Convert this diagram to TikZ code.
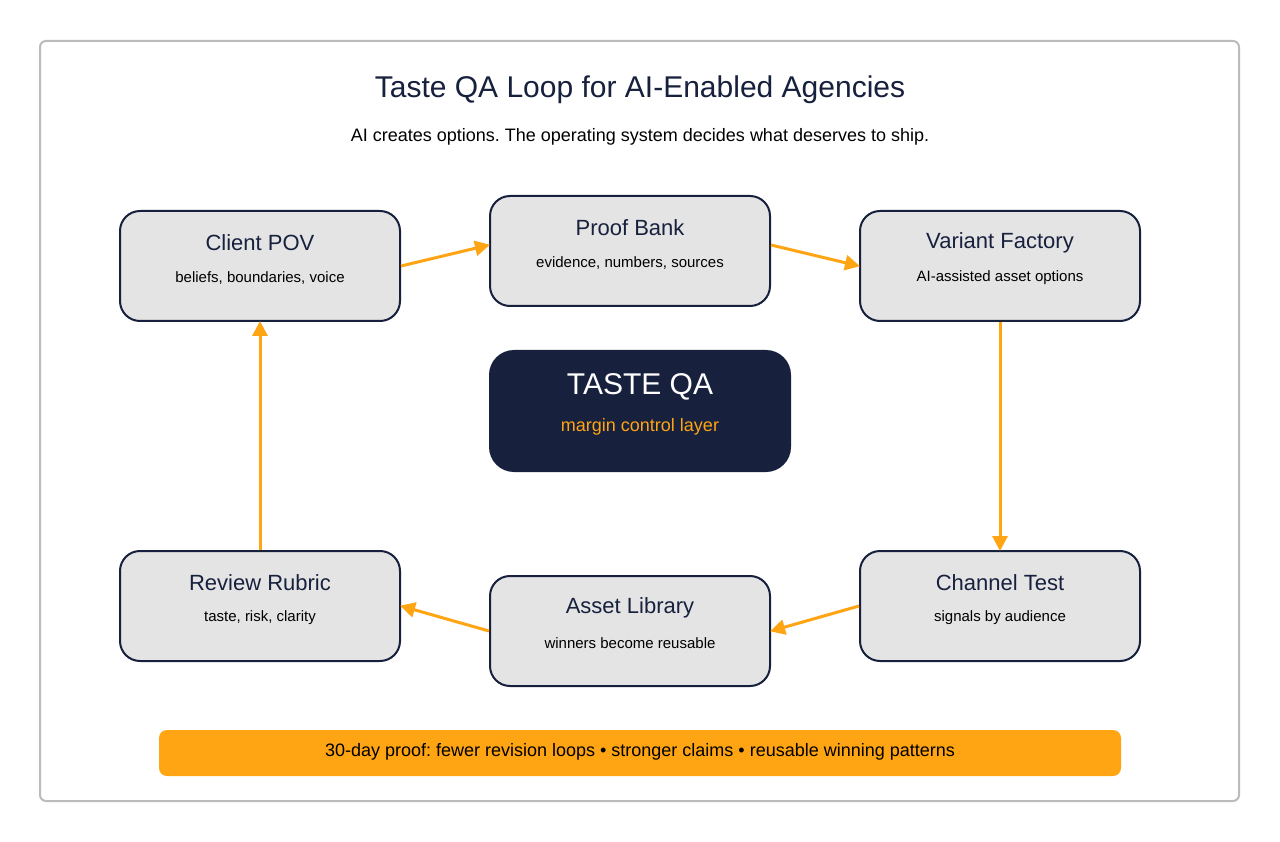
\documentclass[tikz,border=0pt]{standalone}
\usepackage{fontspec}
\setmainfont{Liberation Sans}
\usetikzlibrary{arrows.meta}
\definecolor{navy}{HTML}{17203D}
\definecolor{boxfill}{HTML}{E4E4E4}
\definecolor{orng}{HTML}{FFA412}
\definecolor{frame}{HTML}{BBBBBB}
\frenchspacing
\tikzset{
  stage/.style={draw=navy, line width=2pt, fill=boxfill, rounded corners=20pt, minimum width=280pt, minimum height=110pt, inner sep=0pt},
  stitle/.style={text=navy, font=\fontsize{22}{26}\selectfont, anchor=center, inner sep=0pt},
  ssub/.style={text=black, font=\fontsize{15}{18}\selectfont, anchor=center, inner sep=0pt},
  flow/.style={draw=orng, line width=3pt, -{Triangle[length=15pt,width=15pt]}, shorten >=-1pt}
}
\newcommand{\stage}[5]{%
  \node[stage] (#1) at (#2,#3) {};
  \node[stitle] (#1t) at (#2,#3-23) {#4};
  \node[ssub] (#1s) at (#2,#3+12) {#5};
}
\begin{document}
\begin{tikzpicture}[x=1pt,y=-1pt]
\useasboundingbox (0,0) rectangle (1280,842);
\fill[white] (0,0) rectangle (1280,842);
\draw[frame, line width=2pt, rounded corners=6pt] (40,41) rectangle (1239,801);
\node[text=navy, font=\fontsize{30}{36}\selectfont, inner sep=0pt] (title) at (640,90) {Taste QA Loop for AI-Enabled Agencies};
\node[text=black, font=\fontsize{18}{22}\selectfont, inner sep=0pt] (subtitle) at (640,137) {AI creates options. The operating system decides what deserves to ship.};
\stage{pov}{260}{266}{Client POV}{beliefs, boundaries, voice}
\stage{proof}{630}{251}{Proof Bank}{evidence, numbers, sources}
\stage{variant}{1000}{266}{Variant Factory}{AI-assisted asset options}
\stage{rubric}{260}{606}{Review Rubric}{taste, risk, clarity}
\stage{library}{630}{631}{Asset Library}{winners become reusable}
\stage{channel}{1000}{606}{Channel Test}{signals by audience}
\node[fill=navy, rounded corners=25pt, minimum width=302pt, minimum height=122pt, inner sep=0pt] (qa) at (640,411) {};
\node[text=white, font=\fontsize{30}{36}\selectfont, inner sep=0pt] (qat) at (640,387) {TASTE QA};
\node[text=orng, font=\fontsize{18}{22}\selectfont, inner sep=0pt] (qas) at (640,427) {margin control layer};
\node[fill=orng, rounded corners=8pt, minimum width=962pt, minimum height=46pt, inner sep=0pt] (bar) at (640,753) {};
\node[text=black, font=\fontsize{18}{22}\selectfont, inner sep=0pt] (bart) at (640,752) {30-day proof: fewer revision loops • stronger claims • reusable winning patterns};
\draw[flow] (pov.east) -- ([yshift=6pt]proof.west);
\draw[flow] ([yshift=6pt]proof.east) -- (variant.west);
\draw[flow] (variant.south) -- (channel.north);
\draw[flow] (channel.west) -- (library.east);
\draw[flow] (library.west) -- (rubric.east);
\draw[flow] (rubric.north) -- (pov.south);
\end{tikzpicture}
\end{document}
